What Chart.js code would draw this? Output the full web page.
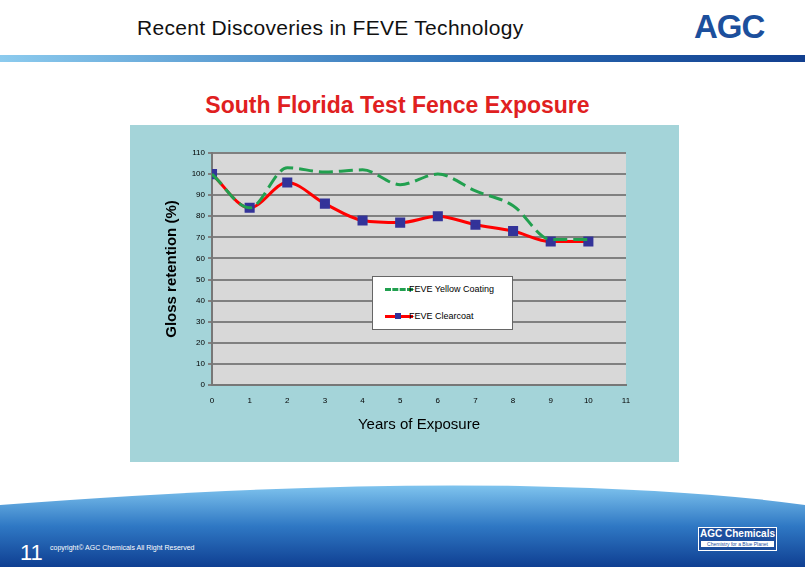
<!DOCTYPE html>
<html>
<head>
<meta charset="utf-8">
<script src="https://cdn.jsdelivr.net/npm/chart.js@4"></script>
<style>
  body { margin: 0; width: 805px; height: 567px; position: relative; overflow: hidden; background: #fff; font-family: "Liberation Sans", Arial, sans-serif; }
  .abs { position: absolute; }
  #chartBox { left: 130px; top: 125px; width: 549px; height: 337px; background: #a4d4d9; }
  .legend { left: 372px; top: 276px; width: 139px; height: 52px; background: #fff; border: 1px solid #666; font-size: 9px; color: #000; }
</style>
</head>
<body>
<div class="abs" style="left:137px;top:16px;font-size:21px;color:#111;font-family:'Liberation Sans';letter-spacing:0.3px">Recent Discoveries in FEVE Technology</div>
<div class="abs" style="left:694px;top:8px;font-size:33px;font-weight:bold;color:#1c4f9c;letter-spacing:-1px">AGC</div>
<div class="abs" style="left:0;top:55px;width:805px;height:7px;background:linear-gradient(90deg,#8ccbee,#2a6cb4 60%,#123f8f)"></div>

<div class="abs" style="left:0;top:92px;width:795px;text-align:center;font-size:23px;font-weight:bold;color:#e0201f">South Florida Test Fence Exposure</div>
<div class="abs" id="chartBox"><canvas id="chart" width="549" height="337"></canvas></div>
<div class="abs legend">
  <div class="abs" style="left:12px;top:11px;width:28px;border-top:3px dashed #21a04f"></div>
  <div class="abs" style="left:36px;top:7px">FEVE Yellow Coating</div>
  <div class="abs" style="left:12px;top:38px;width:28px;height:3px;background:#f00"></div>
  <div class="abs" style="left:22px;top:36px;width:6px;height:6px;background:#333399"></div>
  <div class="abs" style="left:36px;top:34px">FEVE Clearcoat</div>
</div>

<svg class="abs" style="left:0;top:480px" width="805" height="87">
  <defs><linearGradient id="g" x1="0" y1="0" x2="0" y2="1">
    <stop offset="0" stop-color="#7fc4ee"/><stop offset="0.5" stop-color="#2f78c4"/><stop offset="1" stop-color="#0f3f92"/>
  </linearGradient></defs>
  <path d="M0,25 Q300,2 520,6 Q700,10 805,25 L805,87 L0,87 Z" fill="url(#g)"/>
</svg>
<div class="abs" style="left:20px;top:540px;font-size:22px;color:#fff">11</div>
<div class="abs" style="left:50px;top:544px;font-size:7px;color:#fff">copyright© AGC Chemicals All Right Reserved</div>
<div class="abs" style="left:698px;top:527px;width:77px;height:22px;background:#1d4f9e;border:1px solid #fff;color:#fff;text-align:center">
  <div style="font-size:10px;font-weight:bold;line-height:12px">AGC Chemicals</div>
  <div style="font-size:5px;background:#fff;color:#1d4f9e;margin:1px 2px">Chemistry for a Blue Planet</div>
</div>

<script>
const years = [0, 1, 2, 3, 4, 5, 6, 7, 8, 9, 10];
const yellowCoating = [100, 84, 103, 101, 102, 95, 100, 92, 85, 69, 69];
const clearcoat = [100, 84, 96, 86, 78, 77, 80, 76, 73, 68, 68];

const plotBg = {
  id: 'plotBg',
  beforeDraw(chart) {
    const a = chart.chartArea, ctx = chart.ctx;
    ctx.save();
    ctx.fillStyle = '#d8d8d8';
    ctx.fillRect(a.left, a.top, a.right - a.left, a.bottom - a.top);
    ctx.restore();
  }
};

new Chart(document.getElementById('chart'), {
  type: 'line',
  data: {
    datasets: [
      {
        label: 'FEVE Yellow Coating',
        data: years.map((x, i) => ({ x: x, y: yellowCoating[i] })),
        borderColor: '#21a04f',
        borderWidth: 3,
        borderDash: [14, 6],
        pointRadius: 0,
        tension: 0.4,
        cubicInterpolationMode: 'monotone'
      },
      {
        label: 'FEVE Clearcoat',
        data: years.map((x, i) => ({ x: x, y: clearcoat[i] })),
        borderColor: '#ff0000',
        borderWidth: 3,
        pointStyle: 'rect',
        pointRadius: 5,
        pointBackgroundColor: '#333399',
        pointBorderColor: '#333399',
        tension: 0.4,
        cubicInterpolationMode: 'monotone'
      }
    ]
  },
  options: {
    responsive: false,
    animation: false,
    layout: { padding: { left: 29, top: 28, right: 53, bottom: 24 } },
    plugins: { legend: { display: false }, tooltip: { enabled: false } },
    scales: {
      x: {
        type: 'linear', min: 0, max: 11,
        afterFit(s) { s.height = 53; },
        ticks: { stepSize: 1, color: '#000', font: { size: 8 } },
        grid: { display: false },
        border: { color: '#777', width: 2 },
        title: { display: true, text: 'Years of Exposure', color: '#000', font: { size: 15 } }
      },
      y: {
        min: 0, max: 110,
        afterFit(s) { s.width = 53; },
        ticks: { stepSize: 10, color: '#000', font: { size: 8 } },
        grid: { color: '#808080', lineWidth: 2, tickLength: 4 },
        border: { color: '#777', width: 2 },
        title: { display: true, text: 'Gloss retention (%)', color: '#000', font: { size: 15, weight: 'bold' } }
      }
    }
  },
  plugins: [plotBg]
});
</script>
</body>
</html>
